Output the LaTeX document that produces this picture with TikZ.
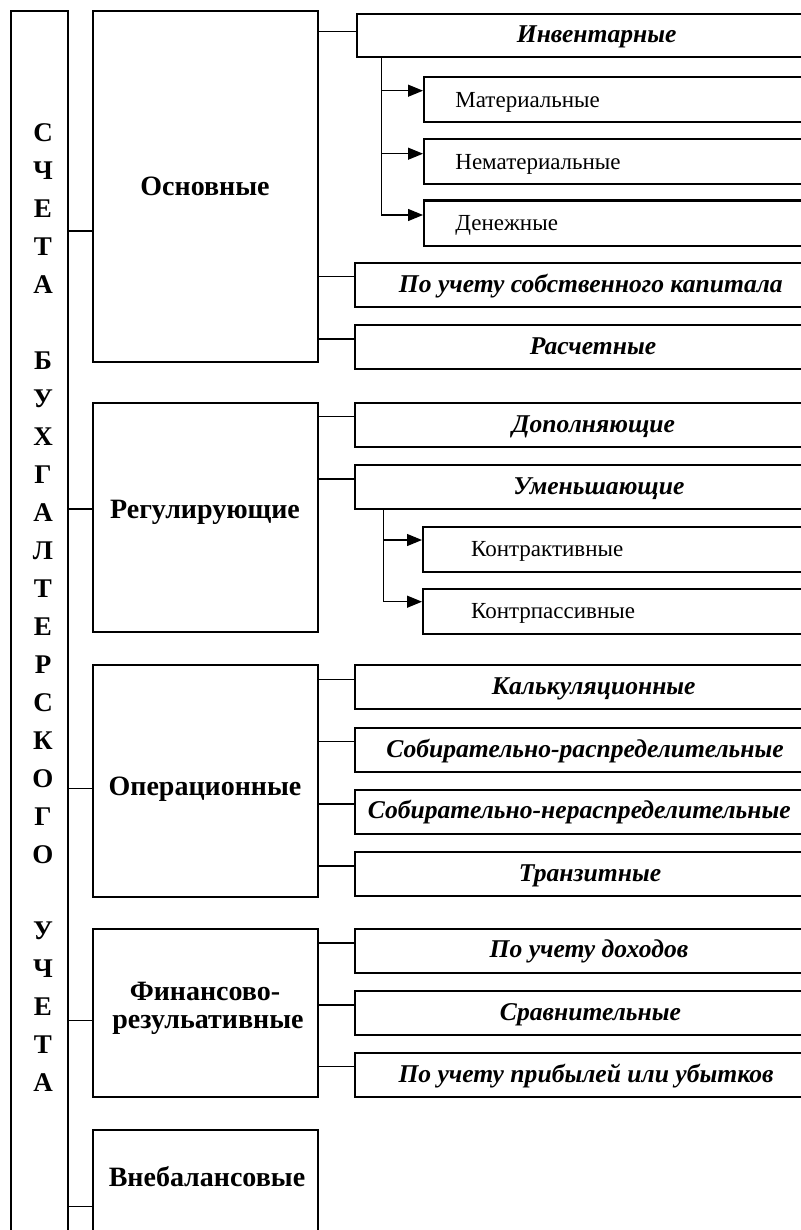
\documentclass[tikz,border=0pt]{standalone}
\usepackage{fontspec}
\setmainfont{Liberation Serif}
\usetikzlibrary{arrows.meta,calc}
\begin{document}
\begin{tikzpicture}[x=0.5pt,y=-0.5pt,
  box/.style={draw, line width=1.1pt, fill=white, anchor=north west, inner sep=0pt},
  rbox/.style={box, minimum width=238pt, minimum height=22pt},
  sbox/.style={box, minimum width=203.5pt, minimum height=22.5pt},
  conn/.style={line width=0.6pt},
  arr/.style={line width=0.6pt, -{Triangle[length=7.5pt,width=6pt]}},
  letter/.style={font=\fontsize{13.5}{15}\selectfont\bfseries, inner sep=0pt, text height=8.9pt, text depth=0pt},
  cat/.style={font=\fontsize{14}{16}\selectfont\bfseries, inner sep=0pt, text height=9.2pt, text depth=0pt},
  catb/.style={font=\fontsize{14}{16}\selectfont\bfseries, inner sep=0pt, anchor=base},
  it/.style={font=\fontsize{12.8}{14}\selectfont\bfseries\itshape, inner sep=0pt, text height=8.4pt, text depth=0pt},
  sub/.style={font=\fontsize{11.5}{13}\selectfont, inner sep=0pt, anchor=west, text height=7.6pt, text depth=0pt}
]
\useasboundingbox (0,0) rectangle (800,1230);

% main left box
\node[box, minimum width=28.75pt, minimum height=620pt] (main) at (9.5,10) {};
\foreach \i/\c in {0/С,1/Ч,2/Е,3/Т,4/А,6/Б,7/У,8/Х,9/Г,10/А,11/Л,12/Т,13/Е,14/Р,15/С,16/К,17/О,18/Г,19/О,21/У,22/Ч,23/Е,24/Т,25/А}
  \node[letter] (l\i) at (43,{132.3+38*\i}) {\c};

% category boxes
\node[box, minimum width=112.5pt, minimum height=175.5pt] (osn) at (92,10) {};
\node[box, minimum width=112.5pt, minimum height=114.5pt] (reg) at (92,402) {};
\node[box, minimum width=112.5pt, minimum height=115.75pt] (ops) at (92,664) {};
\node[box, minimum width=112.5pt, minimum height=83.75pt] (fin) at (92,928) {};
\node[box, minimum width=112.5pt, minimum height=70pt] (vne) at (92,1129) {};

\node[cat] (osnT) at (205,186.7) {Основные};
\node[cat] (regT) at (205,509) {Регулирующие};
\node[cat] (opsT) at (205,786.7) {Операционные};
\node[catb] (finT1) at (205,1000) {Финансово-};
\node[catb] (finT2) at (208,1028.3) {резульативные};
\node[cat] (vneT) at (207,1177.5) {Внебалансовые};

% connectors from spine
\draw[conn] (main.east |- 0,231) -- (osn.west |- 0,231);
\draw[conn] (main.east |- 0,509) -- (reg.west |- 0,509);
\draw[conn] (main.east |- 0,788.3) -- (ops.west |- 0,788.3);
\draw[conn] (main.east |- 0,1020.7) -- (fin.west |- 0,1020.7);
\draw[conn] (main.east |- 0,1206.7) -- (vne.west |- 0,1206.7);

% right boxes: Основные
\node[rbox, minimum height=21.5pt] (inv) at (356,13) {};
\node[sbox] (mat) at (423,76) {};
\node[sbox] (nem) at (423,138) {};
\node[sbox] (den) at (423,199.5) {};
\node[rbox] (sob) at (354,262) {};
\node[rbox] (ras) at (354,324) {};
% Регулирующие
\node[rbox] (dop) at (354,402) {};
\node[rbox] (umen) at (354,464) {};
\node[sbox] (kact) at (422,526) {};
\node[sbox] (kpas) at (422,588) {};
% Операционные
\node[rbox] (kalk) at (354,664) {};
\node[rbox] (sras) at (354,727) {};
\node[rbox] (snras) at (354,788.5) {};
\node[rbox] (tran) at (354,851) {};
% Финансово-результативные
\node[rbox] (doh) at (354,927.5) {};
\node[rbox] (srav) at (354,990) {};
\node[rbox] (prib) at (354,1052) {};

% texts
\node[it] (invT) at (596.7,34.5) {Инвентарные};
\node[sub] (matT) at (455,99.5) {Материальные};
\node[sub] (nemT) at (455,161.5) {Нематериальные};
\node[sub] (denT) at (455,223) {Денежные};
\node[it] (sobT) at (590.8,284) {По учету собственного капитала};
\node[it] (rasT) at (593,346) {Расчетные};
\node[it] (dopT) at (593.5,424) {Дополняющие};
\node[it] (umenT) at (598.8,486) {Уменьшающие};
\node[sub] (kactT) at (470.7,549) {Контрактивные};
\node[sub] (kpasT) at (470.7,611) {Контрпассивные};
\node[it] (kalkT) at (593.7,686) {Калькуляционные};
\node[it] (srasT) at (585,749) {Собирательно-распределительные};
\node[it] (snrasT) at (579.3,810.5) {Собирательно-нераспределительные};
\node[it] (tranT) at (590,873) {Транзитные};
\node[it] (dohT) at (589,949.5) {По учету доходов};
\node[it] (sravT) at (590.5,1012) {Сравнительные};
\node[it] (pribT) at (586,1074) {По учету прибылей или убытков};

% connectors category -> right boxes
\draw[conn] (osn.east |- 0,31.7) -- (inv.west |- 0,31.7);
\draw[conn] (osn.east |- 0,276.7) -- (sob.west |- 0,276.7);
\draw[conn] (osn.east |- 0,339) -- (ras.west |- 0,339);
\draw[conn] (reg.east |- 0,416.7) -- (dop.west |- 0,416.7);
\draw[conn] (reg.east |- 0,479) -- (umen.west |- 0,479);
\draw[conn] (ops.east |- 0,679.3) -- (kalk.west |- 0,679.3);
\draw[conn] (ops.east |- 0,741.7) -- (sras.west |- 0,741.7);
\draw[conn] (ops.east |- 0,804) -- (snras.west |- 0,804);
\draw[conn] (ops.east |- 0,866) -- (tran.west |- 0,866);
\draw[conn] (fin.east |- 0,943) -- (doh.west |- 0,943);
\draw[conn] (fin.east |- 0,1005) -- (srav.west |- 0,1005);
\draw[conn] (fin.east |- 0,1066.7) -- (prib.west |- 0,1066.7);

% arrows
\draw[arr] (inv.south -| 381.7,0) |- (mat.west |- 0,90.7);
\draw[arr] (inv.south -| 381.7,0) |- (nem.west |- 0,153.7);
\draw[arr] (inv.south -| 381.7,0) |- (den.west |- 0,215);
\draw[arr] (umen.south -| 383.3,0) |- (kact.west |- 0,540);
\draw[arr] (umen.south -| 383.3,0) |- (kpas.west |- 0,601.7);
\end{tikzpicture}
\end{document}
